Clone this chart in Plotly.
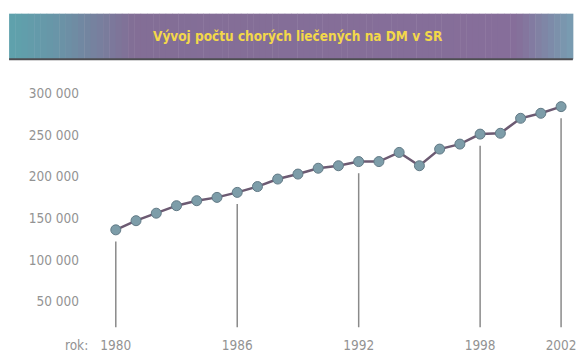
import plotly.graph_objects as go

# Number of treated diabetes (DM) patients in Slovakia per year
years = list(range(1980, 2003))
patients = [136000, 147000, 156000, 165000, 171000, 175000, 181000, 188000,
            197000, 203000, 210000, 213000, 218000, 218000, 229000, 213000,
            233000, 239000, 251000, 252000, 270000, 276000, 284000]

# Years that get a labelled drop line
marked_years = [1980, 1986, 1992, 1998, 2002]

y_ticks = [50000, 100000, 150000, 200000, 250000, 300000]
y_tick_labels = ["50 000", "100 000", "150 000", "200 000", "250 000", "300 000"]

title_text = "Vývoj počtu chorých liečených na DM v SR"

NARROW = "Liberation Sans Narrow, DejaVu Sans Condensed, Arial Narrow, sans-serif"
LABEL_GREY = "#939393"

fig = go.Figure()

# Vertical drop lines under the marked years (start a little below each point)
drop_x, drop_y = [], []
lookup = dict(zip(years, patients))
for yr in marked_years:
    drop_x += [yr, yr, None]
    drop_y += [lookup[yr] - 14000, 19000, None]
fig.add_trace(go.Scatter(
    x=drop_x, y=drop_y, mode="lines",
    line=dict(color="#8a8a8a", width=1.5),
    hoverinfo="skip", showlegend=False,
))

# Main series
fig.add_trace(go.Scatter(
    x=years, y=patients, mode="lines+markers",
    line=dict(color="#6c5a72", width=2.5),
    marker=dict(size=10, color="#7d9da9", line=dict(color="#627a86", width=1)),
    showlegend=False,
))

# Title banner: teal -> purple -> teal horizontal gradient built from strips
def lerp(c1, c2, t):
    return tuple(round(a + (b - a) * t) for a, b in zip(c1, c2))

stops = [(0.0, (94, 162, 172)), (0.08, (104, 150, 168)), (0.22, (131, 110, 150)),
         (0.9, (134, 110, 154)), (1.0, (120, 158, 178))]
bx0, bx1 = -0.193, 1.004
by0, by1 = 1.041, 1.215
n = 90
shapes = []
for i in range(n):
    t = (i + 0.5) / n
    for (s0, c0), (s1, c1) in zip(stops[:-1], stops[1:]):
        if s0 <= t <= s1:
            col = lerp(c0, c1, (t - s0) / (s1 - s0))
            break
    xa = bx0 + (bx1 - bx0) * i / n
    xb = bx0 + (bx1 - bx0) * (i + 1) / n + 0.001
    shapes.append(dict(type="rect", xref="paper", yref="paper",
                       x0=xa, x1=xb, y0=by0, y1=by1,
                       fillcolor="rgb(%d,%d,%d)" % col, line=dict(width=0),
                       layer="below"))
shapes.append(dict(type="line", xref="paper", yref="paper",
                   x0=bx0, x1=bx1, y0=by0, y1=by0,
                   line=dict(color="#4e4e52", width=2)))

fig.update_layout(
    width=582, height=359,
    margin=dict(l=100, r=6, t=70, b=19),
    paper_bgcolor="white", plot_bgcolor="white",
    shapes=shapes,
    xaxis=dict(
        range=[1979.22, 2002.49],
        tickvals=marked_years, ticktext=[str(y) for y in marked_years],
        showgrid=False, zeroline=False, showline=False, ticks="",
        ticklabeloverflow="allow", ticklabelstandoff=3,
        tickfont=dict(family=NARROW, size=13.5, color=LABEL_GREY),
    ),
    yaxis=dict(
        range=[13300, 328000],
        tickvals=y_ticks, ticktext=y_tick_labels,
        showgrid=False, zeroline=False, showline=False, ticks="",
        ticklabelstandoff=20,
        tickfont=dict(family=NARROW, size=13.5, color=LABEL_GREY),
    ),
    annotations=[
        dict(text=title_text, xref="paper", yref="paper", x=0.42, y=1.128,
             xanchor="center", yanchor="middle", showarrow=False,
             font=dict(family=NARROW, size=13.5, color="#f3d84a", weight="bold")),
        dict(text="rok:", xref="x", yref="paper", x=1980, y=0,
             xanchor="right", yanchor="top", xshift=-26, yshift=-3,
             showarrow=False,
             font=dict(family=NARROW, size=13.5, color=LABEL_GREY)),
    ],
)

fig.write_html("out.html")
